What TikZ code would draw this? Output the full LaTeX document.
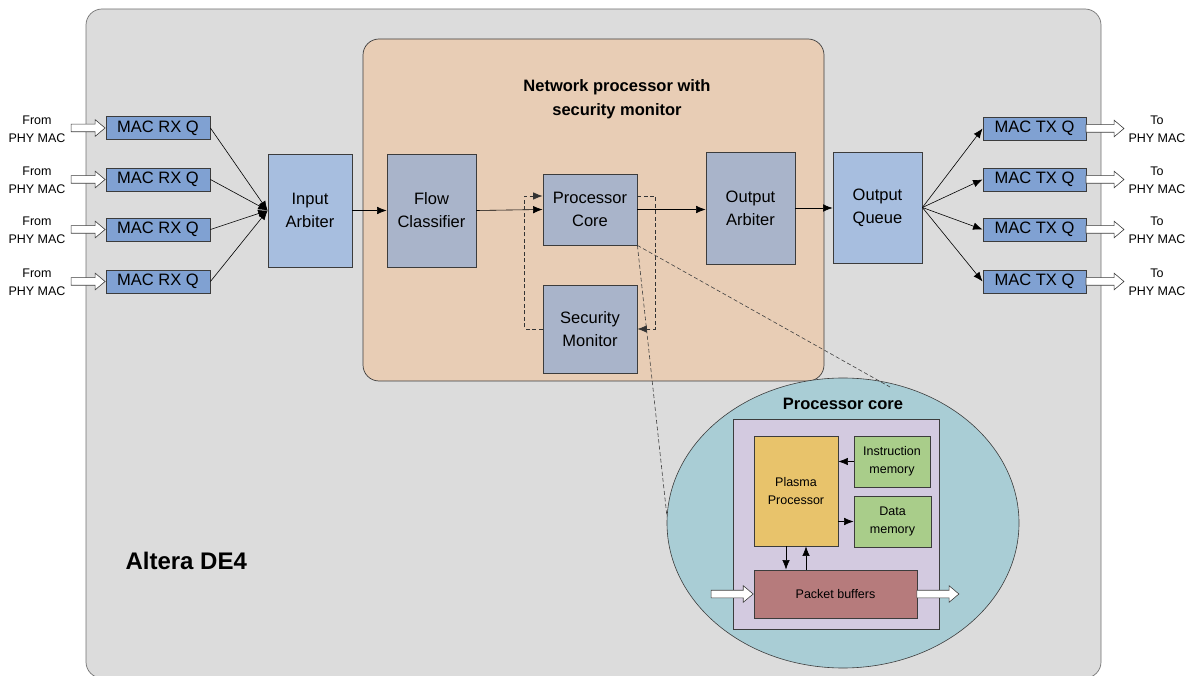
\documentclass[tikz,border=0pt]{standalone}
\usepackage{fontspec}
\setmainfont{Liberation Sans}
\usetikzlibrary{arrows.meta,shapes.arrows,shapes.geometric,calc}
\definecolor{outerg}{RGB}{220,220,220}
\definecolor{orangebg}{RGB}{232,205,181}
\definecolor{macblue}{RGB}{128,161,210}
\definecolor{lightblue}{RGB}{167,190,223}
\definecolor{grayblue}{RGB}{169,180,202}
\definecolor{teal}{RGB}{169,205,213}
\definecolor{lilac}{RGB}{211,202,224}
\definecolor{plasma}{RGB}{232,195,107}
\definecolor{memgreen}{RGB}{169,205,138}
\definecolor{pbred}{RGB}{182,123,124}
\definecolor{edge}{RGB}{60,60,60}
\tikzset{
  x=1pt, y=-1pt,
  fsA/.style={font=\fontsize{16.5}{20}\selectfont},
  macbox/.style={draw=edge, line width=0.9pt, fill=macblue, minimum width=104pt, minimum height=23pt, inner sep=0pt, fsA},
  bigbox/.style={draw=edge, line width=0.8pt, align=center, inner sep=0pt, font=\fontsize{16.5}{23}\selectfont},
  phy/.style={align=center, font=\fontsize{12.5}{18}\selectfont, inner sep=0pt},
  small/.style={draw=edge, line width=0.8pt, align=center, inner sep=0pt, font=\fontsize{12.5}{18}\selectfont},
  arr/.style={-{Latex[length=9.5pt,width=7.5pt]}, line width=0.6pt, black},
  darr/.style={-{Latex[length=9.5pt,width=7.5pt]}, line width=0.7pt, dashed, dash pattern=on 4pt off 2.5pt, black!80},
  hollow/.style={single arrow, draw=edge, fill=white, line width=0.6pt, inner xsep=0pt, inner ysep=3.5pt, single arrow head extend=4.5pt, single arrow tip angle=80, anchor=tip},
}
\begin{document}
\begin{tikzpicture}
\useasboundingbox (0,0) rectangle (1192,676);
\fill[white] (0,0) rectangle (1192,676);
% outer board
\draw[fill=outerg, draw=gray!90!black, line width=0.7pt, rounded corners=16pt] (86,9) rectangle (1101,678);
\node[font=\fontsize{24}{26}\selectfont\bfseries, anchor=west] (altera) at (122,561) {Altera DE4};
% network processor region
\draw[fill=orangebg, draw=edge, line width=0.7pt, rounded corners=16pt] (363,39) rectangle (824,381);
\node[align=center, font=\fontsize{16.5}{24}\selectfont\bfseries] (nptitle) at (617,99) {Network processor with\\security monitor};

% RX queues
\foreach \i/\yy in {1/128,2/179.5,3/229.5,4/281.5}{
  \node[macbox] (rx\i) at (158,\yy) {MAC RX Q};
  \node[phy] (from\i) at (37,\yy+1) {From\\PHY MAC};
  \node[hollow, minimum height=34pt] (hin\i) at (rx\i.west) {};
}
% TX queues
\foreach \i/\yy in {1/128.5,2/179.5,3/229.5,4/281.5}{
  \node[macbox, minimum width=103pt] (tx\i) at (1034.5,\yy) {MAC TX Q};
  \node[phy] (to\i) at (1157,\yy+1) {To\\PHY MAC};
  \coordinate (tt\i) at ($(tx\i.east)+(38,0)$);
  \node[hollow, minimum height=38pt] (hout\i) at (tt\i) {};
}

% main boxes
\node[bigbox, fill=lightblue, minimum width=84pt, minimum height=113pt] (ia) at (310,210.5) {Input\\Arbiter};
\node[bigbox, fill=grayblue, minimum width=89pt, minimum height=113pt] (fc) at (431.5,210.5) {Flow\\Classifier};
\node[bigbox, fill=grayblue, minimum width=94pt, minimum height=71pt] (pc) at (590,209.5) {Processor\\Core};
\node[bigbox, fill=grayblue, minimum width=94pt, minimum height=88pt] (sm) at (590,329) {Security\\Monitor};
\node[bigbox, fill=grayblue, minimum width=89pt, minimum height=112pt] (oa) at (750.5,208) {Output\\Arbiter};
\node[bigbox, fill=lightblue, minimum width=89pt, minimum height=111pt] (oq) at (877.5,207.5) {Output\\Queue};

% connectors
\foreach \i in {1,...,4}{
  \draw[arr] (rx\i.east) -- (ia.west);
  \draw[arr] (oq.east) -- (tx\i.west);
}
\draw[arr] (ia.east) -- (fc.west);
\draw[arr] (fc.east) -- (pc.west);
\draw[arr] (pc.east) -- (pc.east -| oa.west);
\draw[arr] (oa.east) -- (oa.east -| oq.west);
% dashed loop
\coordinate (pcr) at ([yshift=13.5pt]pc.east);
\coordinate (pcl) at ([yshift=13.5pt]pc.west);
\coordinate (smr) at ($(sm.east)+(18,0)$);
\coordinate (sml) at ($(sm.west)+(-18,0)$);
\draw[darr] (pcr) -| (smr) -- (sm.east);
\draw[darr] (sm.west) -- (sml) |- (pcl);

% zoom ellipse
\node[ellipse, draw=edge, line width=0.6pt, fill=teal, minimum width=352pt, minimum height=290pt, inner sep=0pt] (ell) at (843,523) {};
\coordinate (zt) at (890,387);
\coordinate (zl) at (667,517);
\draw[dashed, dash pattern=on 4pt off 2.5pt, line width=0.6pt, black!75] (pc.south east) -- (zt);
\draw[dashed, dash pattern=on 4pt off 2.5pt, line width=0.6pt, black!75] (pc.south east) -- (zl);
\node[font=\fontsize{16.5}{20}\selectfont\bfseries] (pctitle) at (843,404) {Processor core};
\node[draw=edge, line width=0.7pt, fill=lilac, minimum width=206pt, minimum height=210pt, inner sep=0pt] (core) at (836,524) {};
\node[small, fill=plasma, minimum width=84pt, minimum height=110pt] (pl) at (796,491) {Plasma\\Processor};
\node[small, fill=memgreen, minimum width=76pt, minimum height=51pt] (im) at (892,461.5) {Instruction\\memory};
\node[small, fill=memgreen, minimum width=77pt, minimum height=51pt] (dm) at (892.5,521.5) {Data\\memory};
\node[small, fill=pbred, minimum width=163pt, minimum height=48pt] (pb) at (835.5,594) {Packet buffers};
\draw[arr] (im.west) -- (im.west -| pl.east);
\draw[arr] (pl.east |- dm.west) -- (dm.west);
\draw[arr] ([xshift=-10pt]pl.south) -- ([xshift=-10pt]pl.south |- pb.north);
\draw[arr] ([xshift=10pt]pl.south |- pb.north) -- ([xshift=10pt]pl.south);
\node[hollow, minimum height=42pt] (pin) at (pb.west) {};
\coordinate (pbo) at ($(pb.east)+(42,0)$);
\node[hollow, minimum height=42pt] (pout) at (pbo) {};
\end{tikzpicture}
\end{document}
